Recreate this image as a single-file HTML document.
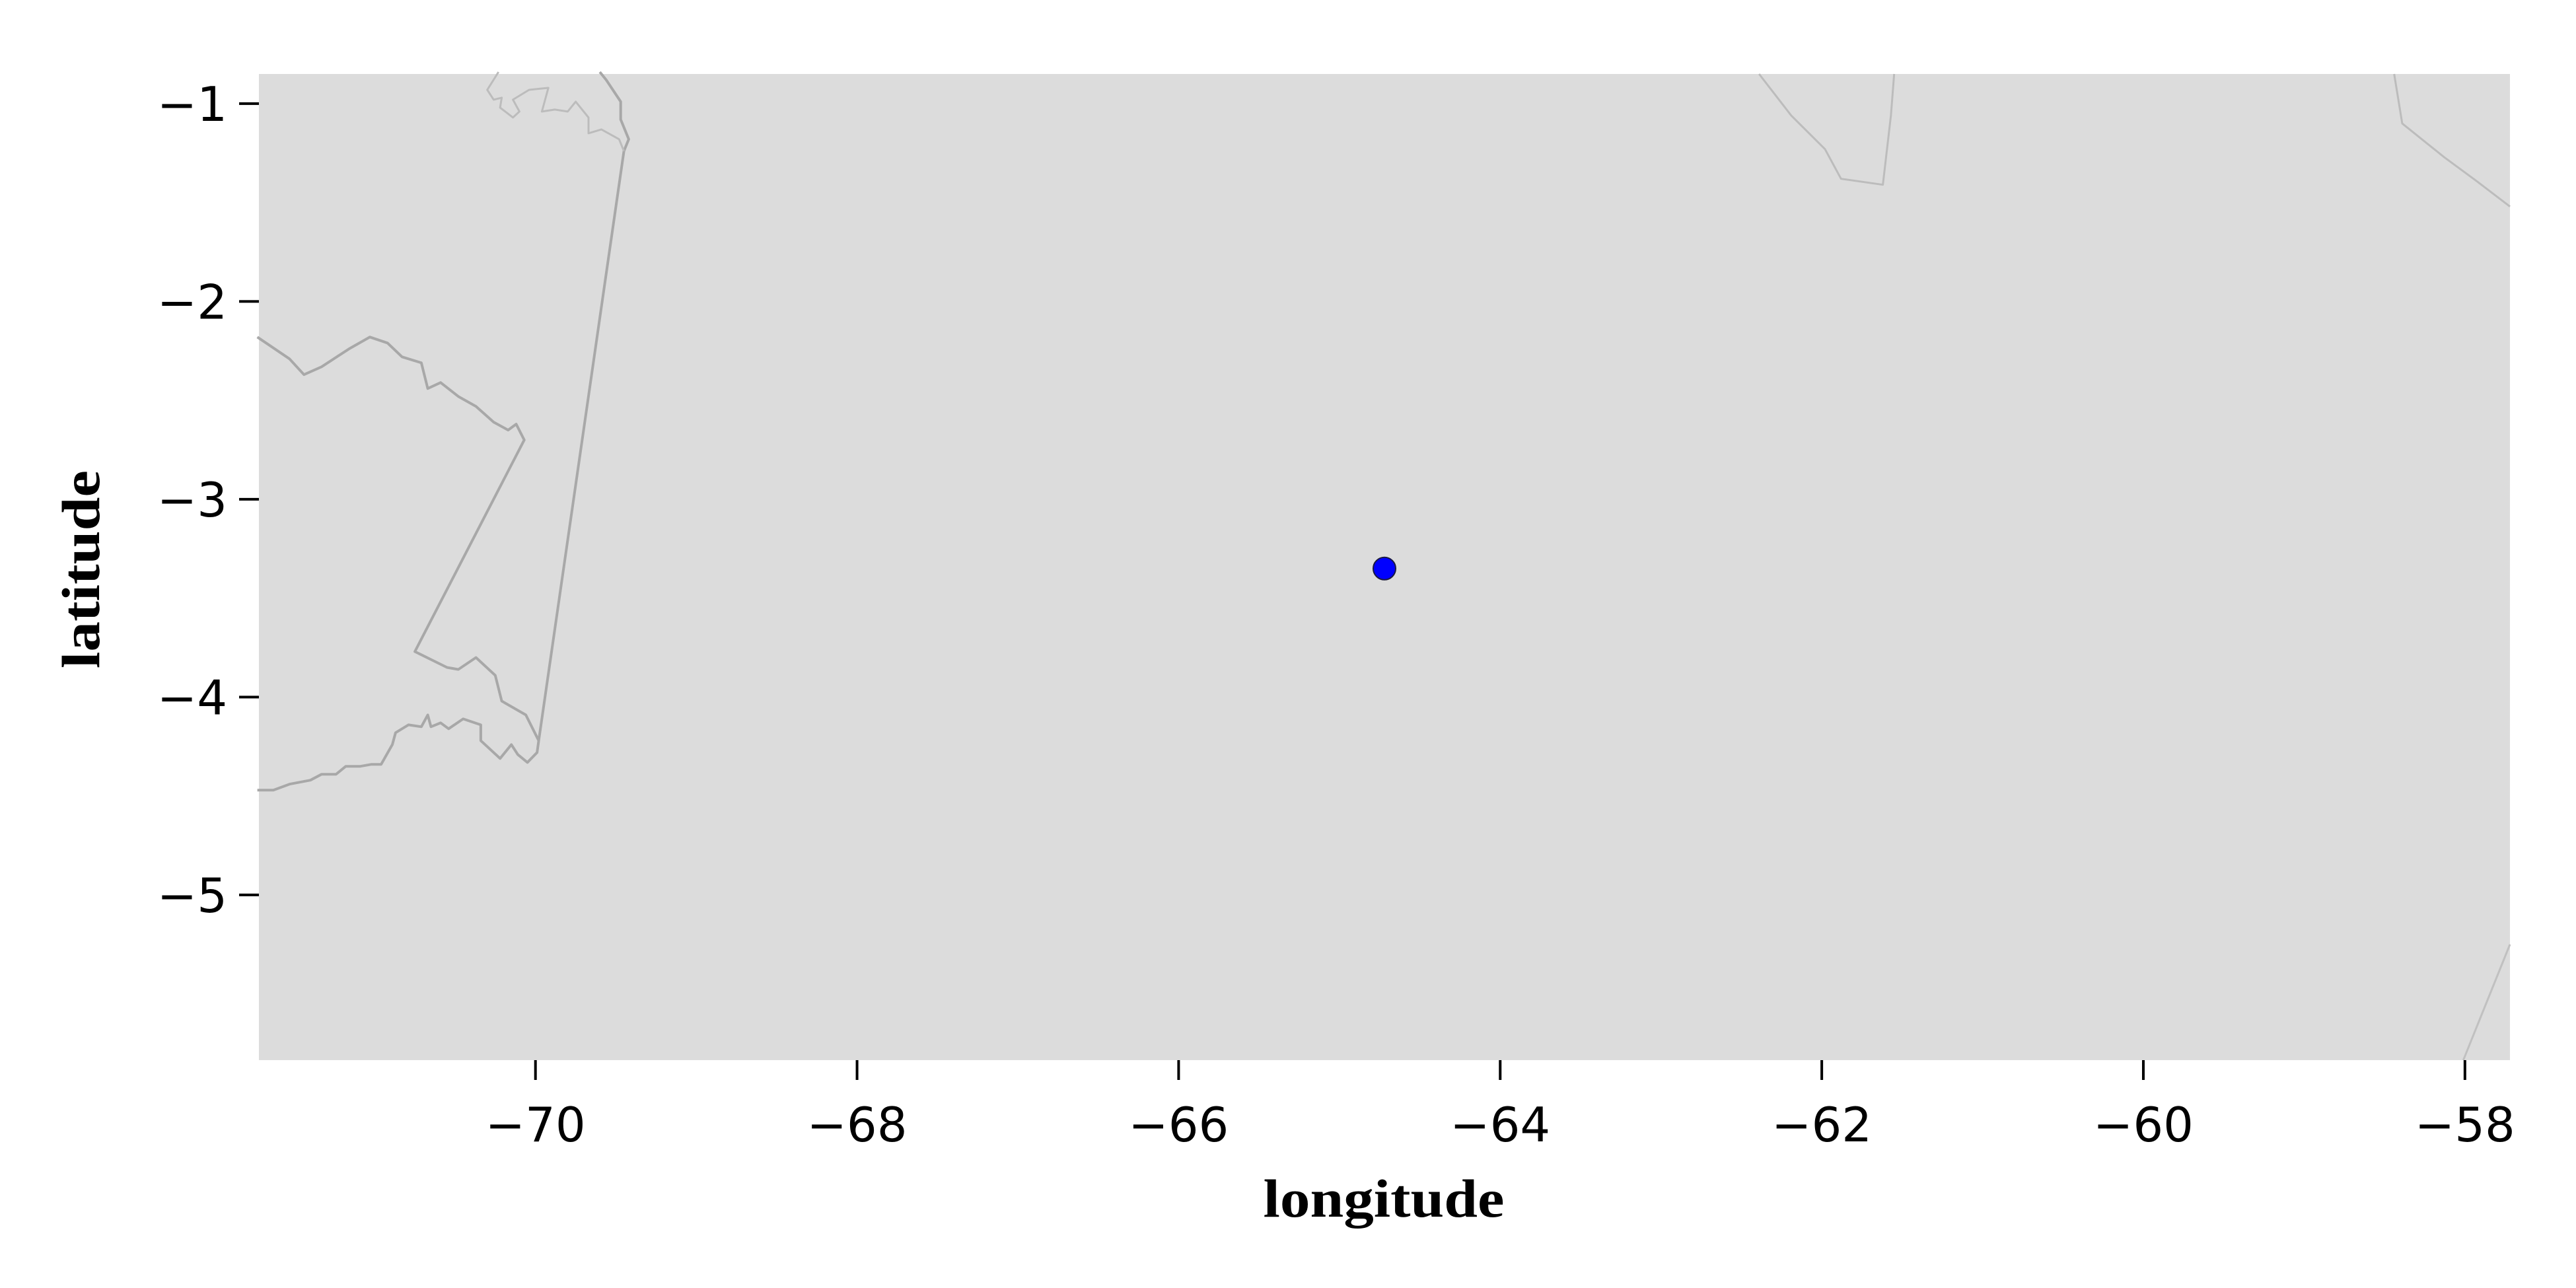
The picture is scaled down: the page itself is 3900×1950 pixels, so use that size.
<!DOCTYPE html>
<html><head><meta charset="utf-8"><style>
html,body{margin:0;padding:0;background:#fff;}
svg{display:block;}
</style></head><body>
<svg id="chart" width="3900" height="1950" viewBox="0 0 3900 1950" xmlns="http://www.w3.org/2000/svg">
<rect x="0" y="0" width="3900" height="1950" fill="#fff"/>
<rect id="plotbg" fill="#dcdcdc"/>
<g id="borders"></g>
<g id="points"></g>
<g id="xaxis"></g>
<g id="yaxis"></g>
<text x="2095" y="1842" text-anchor="middle" font-family="'Liberation Serif', serif" font-weight="bold" font-size="82" textLength="365" lengthAdjust="spacingAndGlyphs">longitude</text>
<text x="0" y="0" transform="translate(150,862) rotate(-90)" text-anchor="middle" font-family="'Liberation Serif', serif" font-weight="bold" font-size="82" textLength="300" lengthAdjust="spacingAndGlyphs">latitude</text>
</svg>
<script>
const xTicks = [-70, -68, -66, -64, -62, -60, -58];
const yTicks = [-1, -2, -3, -4, -5];
const pointLon = [-64.72];
const pointLat = [-3.35];
const borderMain = [[-71.73,-2.18],[-71.53,-2.29],[-71.44,-2.37],[-71.33,-2.33],[-71.16,-2.24],[-71.03,-2.18],[-70.92,-2.21],[-70.83,-2.28],[-70.71,-2.31],[-70.67,-2.44],[-70.59,-2.41],[-70.48,-2.48],[-70.37,-2.53],[-70.26,-2.61],[-70.17,-2.65],[-70.12,-2.62],[-70.07,-2.70],[-70.75,-3.77],[-70.55,-3.85],[-70.48,-3.86],[-70.37,-3.80],[-70.25,-3.89],[-70.21,-4.02],[-70.06,-4.09],[-69.98,-4.22],[-69.45,-1.24],[-69.42,-1.18],[-69.47,-1.08],[-69.47,-0.99],[-69.56,-0.88],[-69.60,-0.84]];
const borderSouth = [[-69.98,-4.22],[-69.99,-4.28],[-70.05,-4.33],[-70.11,-4.29],[-70.15,-4.24],[-70.22,-4.31],[-70.26,-4.28],[-70.34,-4.22],[-70.34,-4.14],[-70.45,-4.11],[-70.54,-4.16],[-70.59,-4.13],[-70.65,-4.15],[-70.67,-4.09],[-70.71,-4.15],[-70.79,-4.14],[-70.87,-4.18],[-70.89,-4.24],[-70.96,-4.34],[-71.02,-4.34],[-71.09,-4.35],[-71.18,-4.35],[-71.24,-4.39],[-71.33,-4.39],[-71.40,-4.42],[-71.53,-4.44],[-71.63,-4.47],[-71.73,-4.47]];
const riverNW = [[-70.23,-0.84],[-70.30,-0.93],[-70.26,-0.98],[-70.21,-0.97],[-70.22,-1.02],[-70.14,-1.07],[-70.10,-1.04],[-70.14,-0.98],[-70.04,-0.93],[-69.92,-0.92],[-69.96,-1.04],[-69.88,-1.03],[-69.80,-1.04],[-69.75,-0.99],[-69.67,-1.07],[-69.67,-1.15],[-69.59,-1.13],[-69.48,-1.18],[-69.45,-1.24]];
const riverNE1 = [[-62.39,-0.85],[-62.19,-1.06],[-61.98,-1.23],[-61.88,-1.38],[-61.62,-1.41],[-61.57,-1.06],[-61.55,-0.85]];
const riverNE2 = [[-58.44,-0.85],[-58.39,-1.10],[-58.13,-1.27],[-57.93,-1.39],[-57.72,-1.52]];
const riverSE = [[-58.01,-5.835],[-57.72,-5.25]];

const lonMin=-71.72, lonMax=-57.72, latMin=-5.835, latMax=-0.85;
const X0=392, X1=3800, Y0=112, Y1=1605;
const sx = v => X0 + (v-lonMin)/(lonMax-lonMin)*(X1-X0);
const sy = v => Y0 + (latMax-v)/(latMax-latMin)*(Y1-Y0);
const NS='http://www.w3.org/2000/svg';
const bg=document.getElementById('plotbg');
bg.setAttribute('x',X0);bg.setAttribute('y',Y0);bg.setAttribute('width',X1-X0);bg.setAttribute('height',Y1-Y0);

function line(arr,color,w,name){
  const p=document.createElementNS(NS,'path');
  p.setAttribute('d',arr.map((q,i)=>(i?'L':'M')+sx(q[0]).toFixed(1)+' '+sy(q[1]).toFixed(1)).join(' '));
  p.setAttribute('fill','none');p.setAttribute('stroke',color);p.setAttribute('stroke-width',w);
  p.setAttribute('stroke-linejoin','round');
  
  
  document.getElementById('borders').appendChild(p);
}
line(borderMain,'#a8a8a8',4,'border-line');
line(borderSouth,'#a8a8a8',4,'border-south');
line(riverNW,'#bcbcbc',3,'river-northwest');
line(riverNE1,'#bcbcbc',3,'river-northeast');
line(riverNE2,'#bcbcbc',3,'river-east');
line(riverSE,'#c0c0c0',3,'river-southeast');

pointLon.forEach((lo,i)=>{
  const c=document.createElementNS(NS,'circle');
  c.setAttribute('cx',sx(lo));c.setAttribute('cy',sy(pointLat[i]));c.setAttribute('r',17);
  c.setAttribute('fill','#0000ff');c.setAttribute('stroke','#1a1a40');c.setAttribute('stroke-width',2);
  
  
  document.getElementById('points').appendChild(c);
});

const xa=document.getElementById('xaxis');
xTicks.forEach(t=>{
  const x=sx(t);
  const l=document.createElementNS(NS,'line');
  l.setAttribute('x1',x);l.setAttribute('x2',x);l.setAttribute('y1',Y1);l.setAttribute('y2',Y1+30);
  l.setAttribute('stroke','#000');l.setAttribute('stroke-width',4);
  
  
  xa.appendChild(l);
  const tx=document.createElementNS(NS,'text');
  tx.setAttribute('x',x);tx.setAttribute('y',1728);tx.setAttribute('text-anchor','middle');
  tx.setAttribute('font-family',"'DejaVu Sans', sans-serif");tx.setAttribute('font-size','72');
  tx.textContent='\u2212'+Math.abs(t);
  
  
  xa.appendChild(tx);
});
const ya=document.getElementById('yaxis');
yTicks.forEach(t=>{
  const y=sy(t);
  const l=document.createElementNS(NS,'line');
  l.setAttribute('x1',X0-30);l.setAttribute('x2',X0);l.setAttribute('y1',y);l.setAttribute('y2',y);
  l.setAttribute('stroke','#000');l.setAttribute('stroke-width',4);
  
  
  ya.appendChild(l);
  const tx=document.createElementNS(NS,'text');
  tx.setAttribute('x',X0-48);tx.setAttribute('y',y+26);tx.setAttribute('text-anchor','end');
  tx.setAttribute('font-family',"'DejaVu Sans', sans-serif");tx.setAttribute('font-size','72');
  tx.textContent='\u2212'+Math.abs(t);
  
  
  ya.appendChild(tx);
});
</script>
</body></html>
